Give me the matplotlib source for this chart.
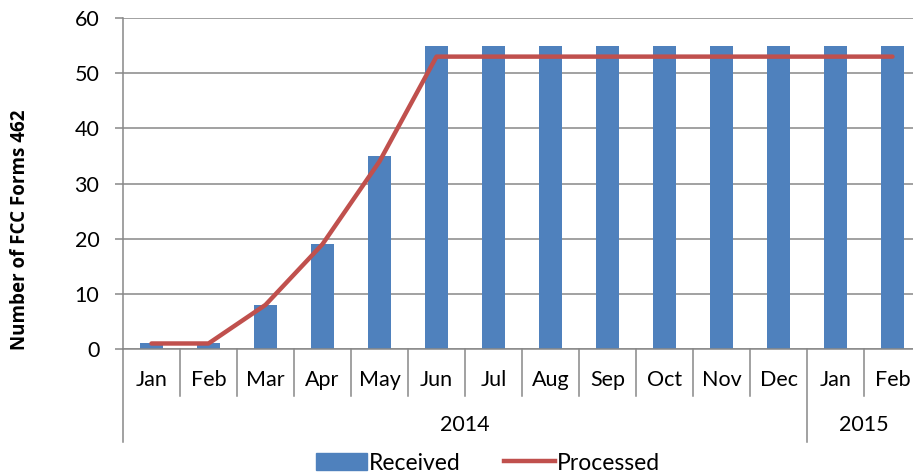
import numpy as np
import matplotlib
matplotlib.use('Agg')
import matplotlib.pyplot as plt
from matplotlib.patches import Patch
from matplotlib.lines import Line2D

plt.rcParams['font.family'] = ['Lato', 'DejaVu Sans']

# data
months = ['Jan', 'Feb', 'Mar', 'Apr', 'May', 'Jun', 'Jul', 'Aug', 'Sep', 'Oct', 'Nov', 'Dec', 'Jan', 'Feb']
years = ['2014', '2015']
year_counts = [12, 2]
received = [1, 1, 8, 19, 35, 55, 55, 55, 55, 55, 55, 55, 55, 55]
processed = [1, 1, 8, 19, 34, 53, 53, 53, 53, 53, 53, 53, 53, 53]

blue = '#4F81BD'
red = '#C0504D'
grey = '#888888'

fig = plt.figure(figsize=(9.13, 4.76), dpi=100)
ax = fig.add_axes([123/913, 127/476, 798/913, 331/476])

x = np.arange(len(months))
ax.bar(x, received, width=0.39, color=blue, zorder=2)
ax.plot(x, processed, color=red, lw=3.2, solid_capstyle='round', solid_joinstyle='round', zorder=3)

ax.set_xlim(-0.5, len(months) - 0.5)
ax.set_ylim(0, 60)
ax.set_yticks(range(0, 61, 10))
ax.yaxis.grid(True, color=grey, lw=1.1, zorder=0)
ax.tick_params(axis='y', direction='out', length=6, width=1.1, color=grey, labelsize=15.5, pad=11)
ax.set_xticks([])
for s in ['top', 'right']:
    ax.spines[s].set_visible(False)
for s in ['left', 'bottom']:
    ax.spines[s].set_color(grey)
    ax.spines[s].set_linewidth(1.1)

# category axis: month labels, separators, year groups
trans = ax.get_xaxis_transform()
for i, m in enumerate(months):
    ax.text(i, -0.094, m, transform=trans, ha='center', va='center', fontsize=15.5)
year_edges = np.cumsum([0] + year_counts) - 0.5
for b in np.arange(-0.5, len(months)):
    low = -0.281 if b in year_edges else -0.142
    ax.plot([b, b], [0, low], transform=trans, color=grey, lw=1.1, clip_on=False)
for k, yr in enumerate(years):
    mid = (year_edges[k] + year_edges[k + 1]) / 2
    ax.text(mid, -0.23, yr, transform=trans, ha='center', va='center', fontsize=15.5)

fig.text(20/913, 1 - 230/476, 'Number of FCC Forms 462', rotation=90, ha='center', va='center',
         fontsize=13.5, fontweight='bold', family=['Open Sans', 'DejaVu Sans'])

handles = [Patch(color=blue, label='Received'), Line2D([], [], color=red, lw=3.2, label='Processed')]
fig.legend(handles=handles, loc='center', bbox_to_anchor=(488/913, 1 - 463/476), ncol=2, frameon=False,
           fontsize=16.5, handlelength=2.2, handletextpad=0.1, columnspacing=1.9)

fig.savefig('out.png', dpi=100)
